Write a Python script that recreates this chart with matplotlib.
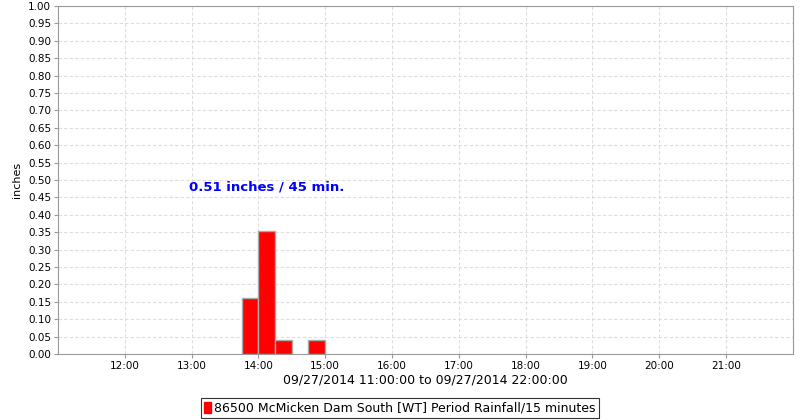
import pandas as pd
import numpy as np
import matplotlib
matplotlib.use("Agg")
import matplotlib.pyplot as plt
import matplotlib.dates as mdates
from matplotlib.patches import Patch

# 15-minute rainfall periods (start of each period) and totals in inches
starts = ["2014-09-27 13:45", "2014-09-27 14:00", "2014-09-27 14:15", "2014-09-27 14:45"]
rain = [0.16, 0.355, 0.04, 0.04]

x_start = "2014-09-27 11:00"
x_end = "2014-09-27 22:00"
series_label = "86500 McMicken Dam South [WT] Period Rainfall/15 minutes"
note_text = "0.51 inches / 45 min."
note_pos = ("2014-09-27 12:58", 0.48)

plt.rcParams['font.family'] = ['DejaVu Sans']
grey = '#999999'

fig = plt.figure(figsize=(8, 4.2), dpi=100)
ax = fig.add_axes([0.0725, 0.157, 0.9185, 0.8285])

t = pd.to_datetime(starts)
ax.bar(t, rain, width=15 / 1440, align='edge', color='#ff0000',
       edgecolor='#aaaaaa', linewidth=1.0, zorder=3)

ax.set_xlim(pd.Timestamp(x_start), pd.Timestamp(x_end))
ax.set_ylim(0, 1.0)
ax.set_yticks(np.arange(0, 1.0001, 0.05))
ax.yaxis.set_major_formatter(matplotlib.ticker.FormatStrFormatter('%.2f'))
ax.set_xticks(pd.date_range("2014-09-27 12:00", "2014-09-27 21:00", freq="h"))
ax.xaxis.set_major_formatter(mdates.DateFormatter('%H:%M'))

ax.tick_params(labelsize=7.5, length=3, color=grey, pad=2)
for s in ax.spines.values():
    s.set_color(grey)
ax.grid(True, color='#dddddd', linestyle=(0, (3, 2)), linewidth=0.8, zorder=0)
ax.set_axisbelow(True)

ax.set_ylabel("inches", fontsize=8, labelpad=4)
ax.set_xlabel("09/27/2014 11:00:00 to 09/27/2014 22:00:00", fontsize=9, labelpad=2)

ax.text(pd.Timestamp(note_pos[0]), note_pos[1], note_text, color='#0000ff',
        fontsize=9.5, fontweight='bold', va='center', ha='left')

leg = fig.legend(handles=[Patch(facecolor='#ff0000', edgecolor='#ff0000')],
                 labels=[series_label], loc='lower center',
                 bbox_to_anchor=(0.5, 0.0), fontsize=9, frameon=True,
                 fancybox=False, handlelength=0.5, handleheight=1.0,
                 handletextpad=0.3, borderpad=0.25, borderaxespad=0.2)
leg.get_frame().set_edgecolor('black')
leg.get_frame().set_linewidth(0.8)

fig.savefig("out.png", dpi=100)
